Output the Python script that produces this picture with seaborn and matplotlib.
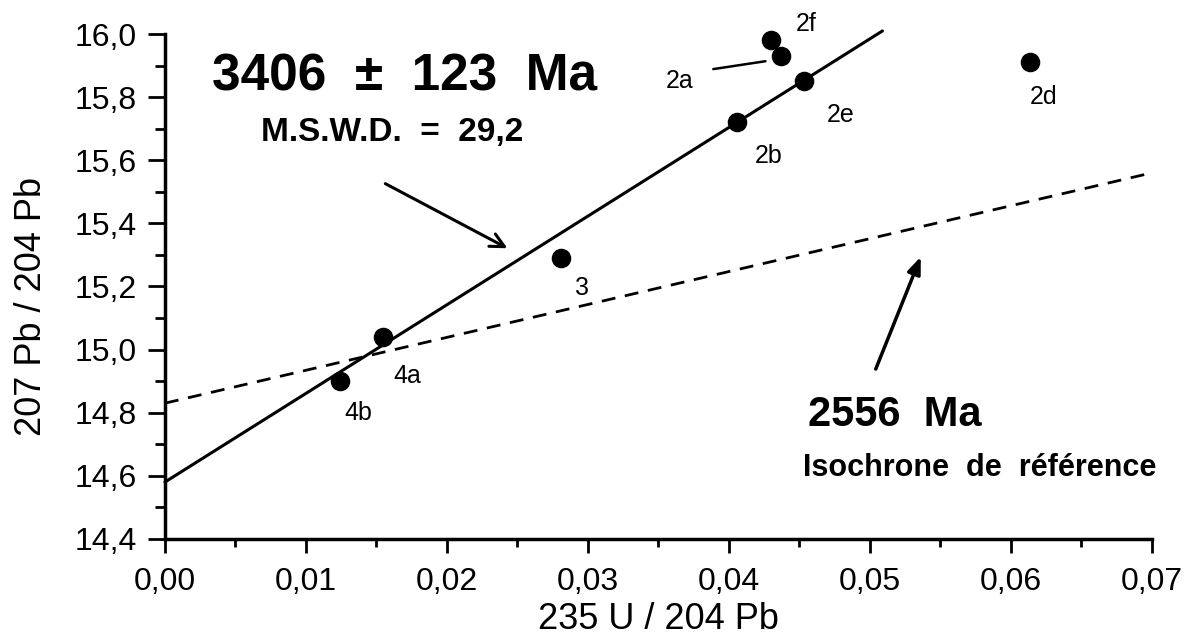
import seaborn as sns
import matplotlib.pyplot as plt
import pandas as pd
from matplotlib.ticker import MultipleLocator, FuncFormatter

# sample data
samples = ['4b', '4a', '3', '2b', '2e', '2f', '2a', '2d']
u235_pb204 = [0.0124, 0.0155, 0.0281, 0.0406, 0.0453, 0.0430, 0.0437, 0.0614]
pb207_pb204 = [14.90, 15.04, 15.29, 15.72, 15.85, 15.98, 15.93, 15.91]

# isochrone 3406 Ma (solid) and reference 2556 Ma (dashed)
fit_x = [0.0, 0.0509]
fit_y = [14.58, 16.01]
ref_x = [0.0, 0.070]
ref_y = [14.83, 15.56]

df = pd.DataFrame({'x': u235_pb204, 'y': pb207_pb204, 'sample': samples})

sns.set_style('ticks')
plt.rcParams['font.family'] = ['Liberation Sans', 'DejaVu Sans']
plt.rcParams['text.color'] = 'black'
plt.rcParams['axes.labelcolor'] = 'black'

fig = plt.figure(figsize=(11.91, 6.43), dpi=100)
ax = fig.add_axes([0.1385, 0.162, 0.8285, 0.785])

sns.lineplot(x=fit_x, y=fit_y, ax=ax, color='black', lw=2.2)
ax.lines[-1].set_clip_on(False)
sns.lineplot(x=ref_x, y=ref_y, ax=ax, color='black', lw=2)
ax.lines[-1].set_dashes((5, 3.5))
sns.scatterplot(data=df, x='x', y='y', ax=ax, color='black', s=170,
                edgecolor='black', zorder=5, clip_on=False)

# point labels
label_pos = {'2f': (0.0455, 16.032), '2a': (0.0365, 15.851), '2e': (0.0479, 15.743),
             '2b': (0.0428, 15.613), '2d': (0.0623, 15.80), '3': (0.0296, 15.194),
             '4a': (0.0172, 14.917), '4b': (0.0137, 14.80)}
for name, (tx, ty) in label_pos.items():
    ax.text(tx, ty, name, fontsize=18, ha='center', va='center', clip_on=False)
ax.plot([0.0389, 0.0426], [15.889, 15.914], color='black', lw=1.8)

ax.text(0.0170, 15.863, '3406  ±  123  Ma', fontsize=37, fontweight='bold',
        ha='center', va='center')
ax.text(0.0161, 15.689, 'M.S.W.D.  =  29,2', fontsize=24, fontweight='bold',
        ha='center', va='center')
ax.text(0.0518, 14.794, '2556  Ma', fontsize=30, fontweight='bold',
        ha='center', va='center')
ax.text(0.0578, 14.625, 'Isochrone  de  référence', fontsize=22,
        fontweight='bold', ha='center', va='center')

ax.annotate('', xy=(0.02447, 15.317), xytext=(0.01546, 15.530),
            arrowprops=dict(arrowstyle='->,head_length=1.0,head_width=0.5',
                            color='black', lw=2.2))
ax.annotate('', xy=(0.05369, 15.302), xytext=(0.05035, 14.930),
            arrowprops=dict(arrowstyle='-|>,head_length=1.0,head_width=0.4',
                            color='black', lw=2.5))

ax.set_xlim(0, 0.07)
ax.set_ylim(14.4, 16.0)
ax.xaxis.set_major_locator(MultipleLocator(0.01))
ax.xaxis.set_minor_locator(MultipleLocator(0.005))
ax.yaxis.set_major_locator(MultipleLocator(0.2))
ax.yaxis.set_minor_locator(MultipleLocator(0.1))
ax.xaxis.set_major_formatter(FuncFormatter(lambda v, p: f'{v:.2f}'.replace('.', ',')))
ax.yaxis.set_major_formatter(FuncFormatter(lambda v, p: f'{v:.1f}'.replace('.', ',')))
ax.tick_params(which='major', direction='out', width=2, labelsize=23,
               color='black', labelcolor='black')
ax.tick_params(which='minor', direction='out', width=2, color='black')
ax.tick_params(axis='x', which='major', length=10, pad=10)
ax.tick_params(axis='x', which='minor', length=6)
ax.tick_params(axis='y', which='major', length=12, pad=8)
ax.tick_params(axis='y', which='minor', length=7)

sns.despine(ax=ax)
for s in ['left', 'bottom']:
    ax.spines[s].set_linewidth(2.5)
    ax.spines[s].set_color('black')

ax.set_xlabel('235 U / 204 Pb', fontsize=26)
ax.set_ylabel('207 Pb / 204 Pb', fontsize=26)
ax.xaxis.set_label_coords(0.5, -0.126)
ax.yaxis.set_label_coords(-0.118, 0.46)

plt.savefig('out.png', dpi=100)
